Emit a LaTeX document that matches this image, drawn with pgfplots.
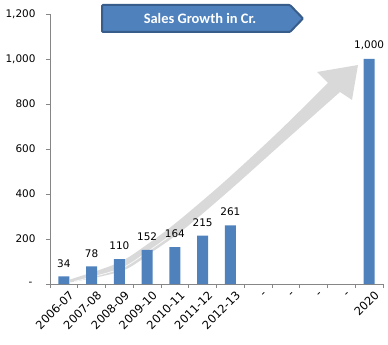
\documentclass[border=0pt]{standalone}
\usepackage{fontspec}
\setmainfont{DejaVu Sans}
\newfontfamily\titlefont{Carlito}
\usepackage{pgfplots}
\pgfplotsset{compat=1.18}
\definecolor{barblue}{HTML}{4F81BD}
\definecolor{titleborder}{HTML}{385D8A}
\definecolor{axisgray}{HTML}{868686}
\definecolor{arrowgray}{HTML}{D9D9D9}
\newcommand\lblfont{\fontsize{10.5}{12}\selectfont}
\begin{document}
\begin{tikzpicture}
\useasboundingbox (0,0) rectangle (388bp,345bp);
\begin{scope}[x=1bp,y=-1bp,shift={(0,345bp)}]
\fill[arrowgray] plot[smooth] coordinates {(69.6,279.6) (118,263) (147.4,244.3) (176.8,222.2) (223.8,182.2) (277.3,132.9) (328,83)}
  -- (317,72) -- (358,65) -- (352,100)
  -- plot[smooth] coordinates {(340,92) (284.7,141.1) (230.2,189.8) (183.2,229.8) (152.6,251.7) (122,271) (70.4,282.4)} -- cycle;
\draw[white, opacity=0.8, line width=0.8bp] plot[smooth] coordinates {(74,281.5) (121,268.5) (150,250) (170,236)};
\end{scope}
\begin{axis}[
  at={(50bp,61bp)}, anchor=south west,
  scale only axis, width=333bp, height=270bp,
  ymin=0, ymax=1200, xmin=-0.5, xmax=11.5,
  axis lines*=left,
  axis line style={axisgray, line width=0.8bp},
  tick align=outside, major tick length=4bp,
  tick style={axisgray, line width=0.8bp},
  /pgf/number format/assume math mode=true,
  /pgf/number format/1000 sep={,},
  ytick={0,200,...,1200},
  yticklabels={{-\kern3bp},200,400,600,800,{1,000},{1,200}},
  yticklabel style={font=\lblfont, xshift=-7bp},
  xtick={-0.5,0.5,...,11.5},
  xticklabels={},
  extra x ticks={0,1,...,11},
  extra x tick labels={2006-07,2007-08,2008-09,2009-10,2010-11,2011-12,2012-13,-,-,-,-,2020},
  extra x tick style={major tick length=0pt, tick style={draw=none},
    xticklabel style={font=\fontsize{11.5}{13}\selectfont, rotate=45, anchor=east, inner sep=0pt, yshift=-12bp, xshift=-1bp}},
  ybar, bar width=11bp,
  nodes near coords,
  every node near coord/.append style={font=\lblfont, anchor=south, inner sep=0pt, yshift=9bp},
  clip=false,
]
\addplot[fill=barblue, draw=none] coordinates {(0,34) (1,78) (2,110) (3,152) (4,164) (5,215) (6,261) (11,1000)};
\end{axis}
\begin{scope}[x=1bp,y=-1bp,shift={(0,345bp)}]
\draw[titleborder, line width=2bp, fill=barblue, rounded corners=1bp] (102,5) -- (290,5) -- (303,18.5) -- (290,32) -- (102,32) -- cycle;
\node[text=white, font=\titlefont\bfseries\fontsize{14.5}{16}\selectfont] at (200,18.5) {Sales Growth in Cr.};
\end{scope}
\end{tikzpicture}
\end{document}
